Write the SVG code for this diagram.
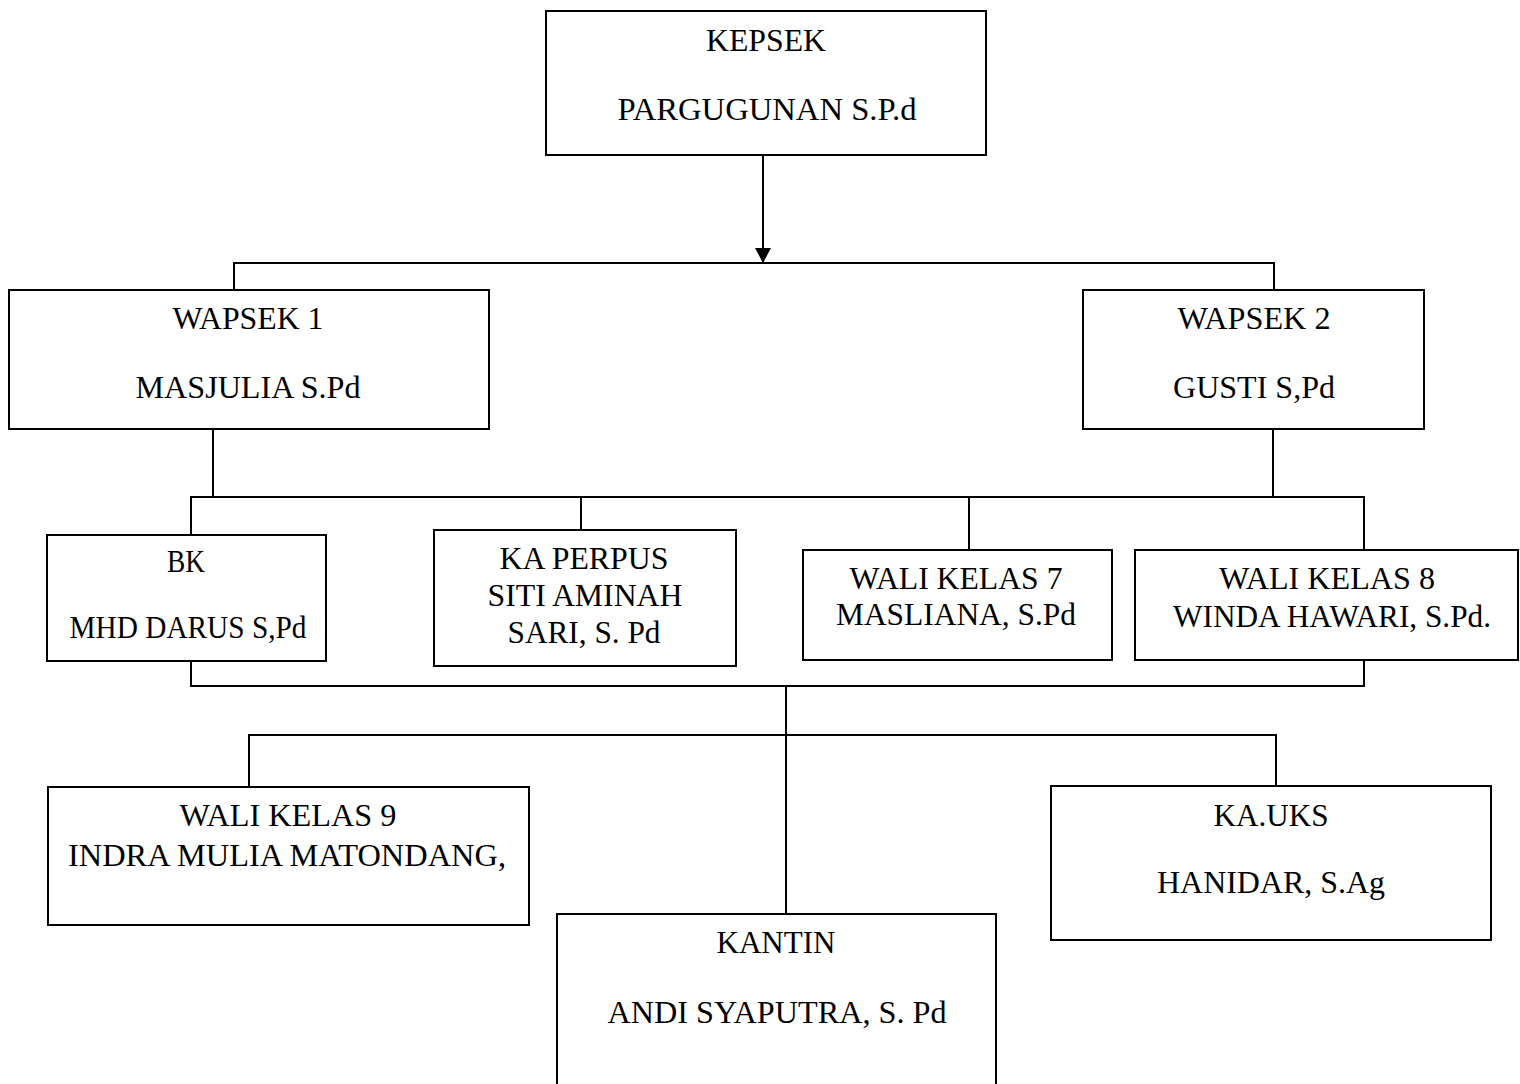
<svg xmlns="http://www.w3.org/2000/svg" width="1520" height="1084" viewBox="0 0 1520 1084">
<style>
.box{fill:#fff;stroke:#000;stroke-width:2}
.ln{fill:none;stroke:#000;stroke-width:2}
text{font-family:"Liberation Serif","Times New Roman",serif;font-size:32px;fill:#000;text-anchor:middle}
</style>
<defs>
<marker id="arr" markerWidth="16" markerHeight="16" refX="15" refY="8" orient="auto" markerUnits="userSpaceOnUse">
<path d="M0,0 L15,8 L0,16 Z" fill="#000"/>
</marker>
</defs>
<rect width="1520" height="1084" fill="#fff"/>
<g id="connectors">
<line class="ln" x1="763" y1="155" x2="763" y2="263" marker-end="url(#arr)"/>
<polyline class="ln" points="234,290 234,263 1274,263 1274,290"/>
<line class="ln" x1="213" y1="429" x2="213" y2="497"/>
<line class="ln" x1="1273" y1="429" x2="1273" y2="497"/>
<polyline class="ln" points="191,535 191,497 1364,497 1364,550"/>
<line class="ln" x1="581" y1="497" x2="581" y2="530"/>
<line class="ln" x1="969" y1="497" x2="969" y2="550"/>
<polyline class="ln" points="191,661 191,686 1364,686 1364,660"/>
<line class="ln" x1="786" y1="686" x2="786" y2="914"/>
<polyline class="ln" points="249,787 249,735 1276,735 1276,786"/>
</g>
<g id="kepsek">
<rect class="box" x="546" y="11" width="440" height="144"/>
<text x="766" y="51" textLength="120" lengthAdjust="spacingAndGlyphs">KEPSEK</text>
<text x="767" y="120" textLength="299" lengthAdjust="spacingAndGlyphs">PARGUGUNAN S.P.d</text>
</g>
<g id="wapsek1">
<rect class="box" x="9" y="290" width="480" height="139"/>
<text x="248" y="329" textLength="151" lengthAdjust="spacingAndGlyphs">WAPSEK 1</text>
<text x="248" y="398" textLength="225" lengthAdjust="spacingAndGlyphs">MASJULIA S.Pd</text>
</g>
<g id="wapsek2">
<rect class="box" x="1083" y="290" width="341" height="139"/>
<text x="1254" y="329" textLength="153" lengthAdjust="spacingAndGlyphs">WAPSEK 2</text>
<text x="1254" y="398" textLength="162" lengthAdjust="spacingAndGlyphs">GUSTI S,Pd</text>
</g>
<g id="bk">
<rect class="box" x="47" y="535" width="279" height="126"/>
<text x="186" y="572" textLength="38" lengthAdjust="spacingAndGlyphs">BK</text>
<text x="188" y="638" textLength="237" lengthAdjust="spacingAndGlyphs">MHD DARUS S,Pd</text>
</g>
<g id="kaperpus">
<rect class="box" x="434" y="530" width="302" height="136"/>
<text x="584" y="569" textLength="169" lengthAdjust="spacingAndGlyphs">KA PERPUS</text>
<text x="585" y="606" textLength="195" lengthAdjust="spacingAndGlyphs">SITI AMINAH</text>
<text x="584" y="643" textLength="153" lengthAdjust="spacingAndGlyphs">SARI, S. Pd</text>
</g>
<g id="walikelas7">
<rect class="box" x="803" y="550" width="309" height="110"/>
<text x="956" y="589" textLength="213" lengthAdjust="spacingAndGlyphs">WALI KELAS 7</text>
<text x="956" y="625" textLength="240" lengthAdjust="spacingAndGlyphs">MASLIANA, S.Pd</text>
</g>
<g id="walikelas8">
<rect class="box" x="1135" y="550" width="383" height="110"/>
<text x="1327" y="589" textLength="216" lengthAdjust="spacingAndGlyphs">WALI KELAS 8</text>
<text x="1332" y="627" textLength="318" lengthAdjust="spacingAndGlyphs">WINDA HAWARI, S.Pd.</text>
</g>
<g id="walikelas9">
<rect class="box" x="48" y="787" width="481" height="138"/>
<text x="288" y="826" textLength="217" lengthAdjust="spacingAndGlyphs">WALI KELAS 9</text>
<text x="287" y="866" textLength="438" lengthAdjust="spacingAndGlyphs">INDRA MULIA MATONDANG,</text>
</g>
<g id="kantin">
<rect class="box" x="557" y="914" width="439" height="180"/>
<text x="776" y="953" textLength="119" lengthAdjust="spacingAndGlyphs">KANTIN</text>
<text x="777" y="1023" textLength="339" lengthAdjust="spacingAndGlyphs">ANDI SYAPUTRA, S. Pd</text>
</g>
<g id="kauks">
<rect class="box" x="1051" y="786" width="440" height="154"/>
<text x="1271" y="826" textLength="115" lengthAdjust="spacingAndGlyphs">KA.UKS</text>
<text x="1271" y="893" textLength="228" lengthAdjust="spacingAndGlyphs">HANIDAR, S.Ag</text>
</g>
</svg>
